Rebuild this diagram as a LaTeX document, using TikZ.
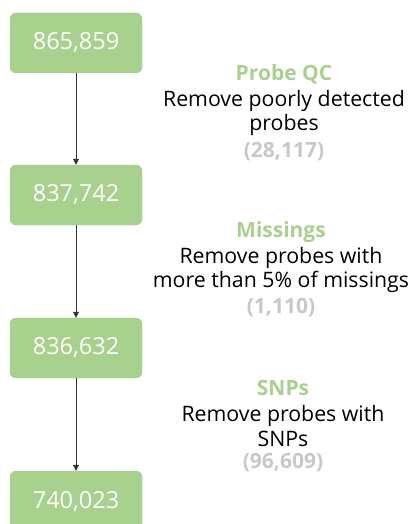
\documentclass[tikz,border=0pt]{standalone}
\usepackage{fontspec}
\setmainfont{Open Sans}
\usetikzlibrary{arrows.meta}
\definecolor{boxgreen}{HTML}{A9D18E}
\definecolor{stepgray}{HTML}{C8C8C8}
\tikzset{
  x=1pt, y=-1pt,
  countbox/.style={draw=boxgreen!90!gray, fill=boxgreen, rounded corners=6pt,
    minimum width=132pt, minimum height=60pt, text=white,
    font=\fontsize{23.5}{26}\selectfont, inner sep=0pt},
  flow/.style={draw=black!80, line width=0.6pt, -{Triangle[length=6pt,width=6pt]}},
  steptitle/.style={text=boxgreen, font=\bfseries\fontsize{21}{24}\selectfont},
  stepdesc/.style={align=center, font=\fontsize{21.3}{24.5}\selectfont},
  stepcount/.style={text=stepgray, font=\bfseries\fontsize{21}{24}\selectfont},
}
\begin{document}
\begin{tikzpicture}
\useasboundingbox (0,0) rectangle (411,524);
\node[countbox] (b1) at (76,43) {865,859};
\node[countbox] (b2) at (76,195) {837,742};
\node[countbox] (b3) at (76,348) {836,632};
\node[countbox] (b4) at (76,501) {740,023};
\draw[flow] (b1) -- (b2);
\draw[flow] (b2) -- (b3);
\draw[flow] (b3) -- (b4);

\node[steptitle] (t1) at (284,74) {Probe QC};
\node[stepdesc] (d1) at (284,113) {Remove poorly detected\\probes};
\node[stepcount] (c1) at (284,152) {(28,117)};

\node[steptitle] (t2) at (281,232) {Missings};
\node[stepdesc] (d2) at (281,270) {Remove probes with\\more than 5\% of missings};
\node[stepcount] (c2) at (281,308) {(1,110)};

\node[steptitle] (t3) at (283,388) {SNPs};
\node[stepdesc] (d3) at (283,426) {Remove probes with\\SNPs};
\node[stepcount] (c3) at (283,463) {(96,609)};
\end{tikzpicture}
\end{document}
